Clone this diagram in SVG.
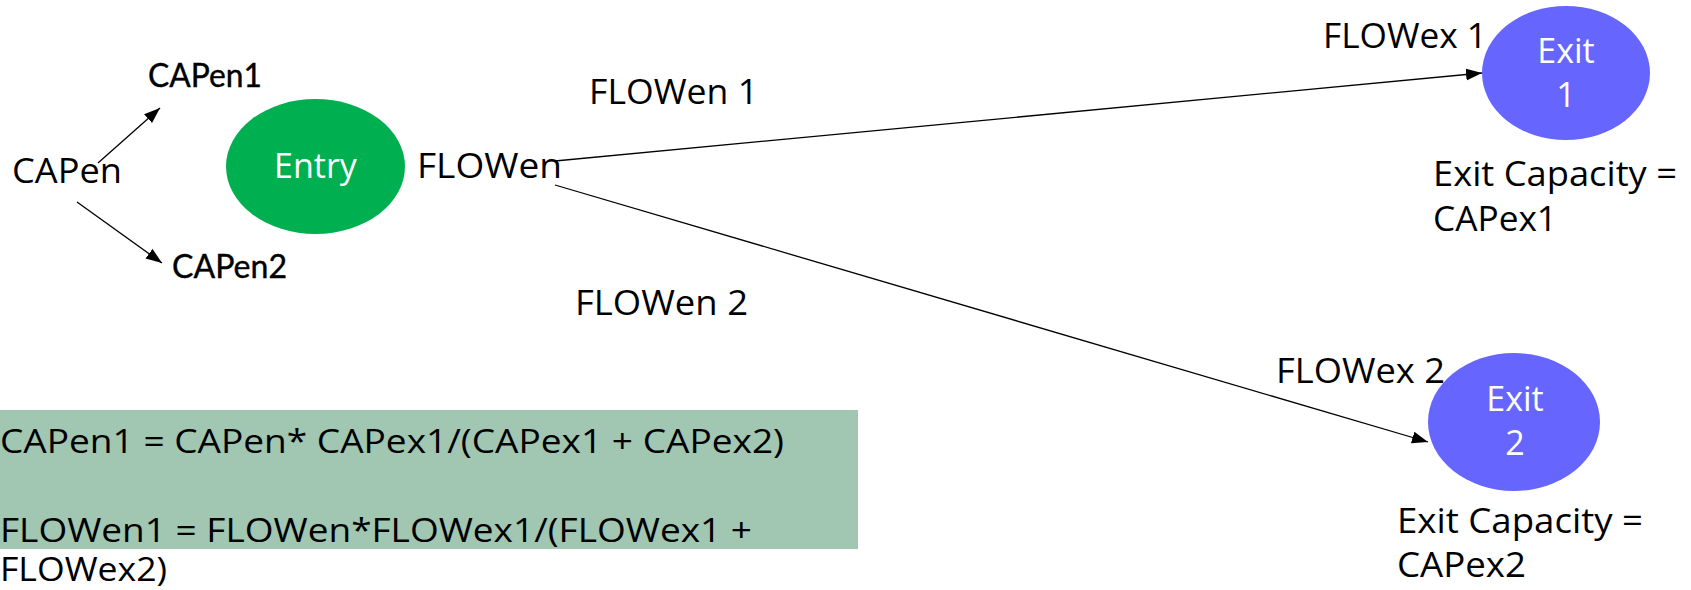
<svg xmlns="http://www.w3.org/2000/svg" width="1691" height="590" viewBox="0 0 1691 590">
  <style>
    .lbl { font-family: "Open Sans", "Liberation Sans", sans-serif; font-size: 34px; fill: #000; }
    .cal { font-family: Lato, "Liberation Sans", sans-serif; font-size: 32px; fill: #000; stroke: #000; stroke-width: 0.4; }
    .inner { font-family: "Open Sans", "Liberation Sans", sans-serif; font-size: 34px; fill: #fff; text-anchor: middle; }
    .formula { font-family: "Open Sans", "Liberation Sans", sans-serif; font-size: 32px; fill: #000; }
    .edge { stroke: #000; stroke-width: 1.3; fill: none; marker-end: url(#arrow); }
  </style>
  <defs>
    <marker id="arrow" markerUnits="userSpaceOnUse" markerWidth="17" markerHeight="13" refX="16" refY="6" orient="auto">
      <path d="M0,0 L16,6 L0,12 Z" fill="#000"/>
    </marker>
  </defs>

  <!-- formula panel -->
  <g id="formula">
    <rect x="0" y="410" width="858" height="139" fill="#A1C6B2"/>
    <text class="formula" x="0" y="453" textLength="784" lengthAdjust="spacingAndGlyphs">CAPen1 = CAPen* CAPex1/(CAPex1 + CAPex2)</text>
    <text class="formula" x="0" y="542" textLength="752" lengthAdjust="spacingAndGlyphs">FLOWen1 = FLOWen*FLOWex1/(FLOWex1 +</text>
    <text class="formula" x="0" y="581" textLength="167" lengthAdjust="spacingAndGlyphs">FLOWex2)</text>
  </g>

  <!-- connectors -->
  <g id="connectors">
    <line class="edge" x1="98" y1="163" x2="160" y2="108"/>
    <line class="edge" x1="77" y1="202" x2="162" y2="263"/>
    <line class="edge" x1="555" y1="161" x2="1482" y2="73"/>
    <line class="edge" x1="555" y1="185" x2="1428" y2="442"/>
  </g>

  <!-- capacity split labels -->
  <g id="capen">
    <text class="lbl" x="12" y="183" textLength="110" lengthAdjust="spacingAndGlyphs">CAPen</text>
  </g>
  <g id="capen1">
    <text class="cal" x="148" y="87" textLength="114" lengthAdjust="spacingAndGlyphs">CAPen1</text>
  </g>
  <g id="capen2">
    <text class="cal" x="172" y="278" textLength="115" lengthAdjust="spacingAndGlyphs">CAPen2</text>
  </g>

  <!-- entry node -->
  <g id="entry">
    <ellipse cx="315.5" cy="166.5" rx="89.5" ry="67.5" fill="#00B050"/>
    <text class="inner" x="315.5" y="178">Entry</text>
  </g>
  <g id="flowen">
    <text class="lbl" x="417" y="178" textLength="145" lengthAdjust="spacingAndGlyphs">FLOWen</text>
  </g>
  <g id="flowen1">
    <text class="lbl" x="589" y="104" textLength="169" lengthAdjust="spacingAndGlyphs">FLOWen 1</text>
  </g>
  <g id="flowen2">
    <text class="lbl" x="575" y="315" textLength="173" lengthAdjust="spacingAndGlyphs">FLOWen 2</text>
  </g>

  <!-- exit 1 -->
  <g id="exit1">
    <ellipse cx="1566" cy="73" rx="84" ry="67" fill="#6666FF"/>
    <text class="inner" x="1566" y="63">Exit</text>
    <text class="inner" x="1566" y="107">1</text>
  </g>
  <g id="flowex1">
    <text class="lbl" x="1323" y="48" textLength="164" lengthAdjust="spacingAndGlyphs">FLOWex 1</text>
  </g>
  <g id="exit1-capacity">
    <text class="lbl" x="1433" y="186" textLength="244" lengthAdjust="spacingAndGlyphs">Exit Capacity =</text>
    <text class="lbl" x="1433" y="231" textLength="124" lengthAdjust="spacingAndGlyphs">CAPex1</text>
  </g>

  <!-- exit 2 -->
  <g id="exit2">
    <ellipse cx="1514" cy="422" rx="86" ry="69" fill="#6666FF"/>
    <text class="inner" x="1515" y="411">Exit</text>
    <text class="inner" x="1515" y="455">2</text>
  </g>
  <g id="flowex2">
    <text class="lbl" x="1276" y="383" textLength="169" lengthAdjust="spacingAndGlyphs">FLOWex 2</text>
  </g>
  <g id="exit2-capacity">
    <text class="lbl" x="1397" y="533" textLength="246" lengthAdjust="spacingAndGlyphs">Exit Capacity =</text>
    <text class="lbl" x="1397" y="577" textLength="129" lengthAdjust="spacingAndGlyphs">CAPex2</text>
  </g>
</svg>
